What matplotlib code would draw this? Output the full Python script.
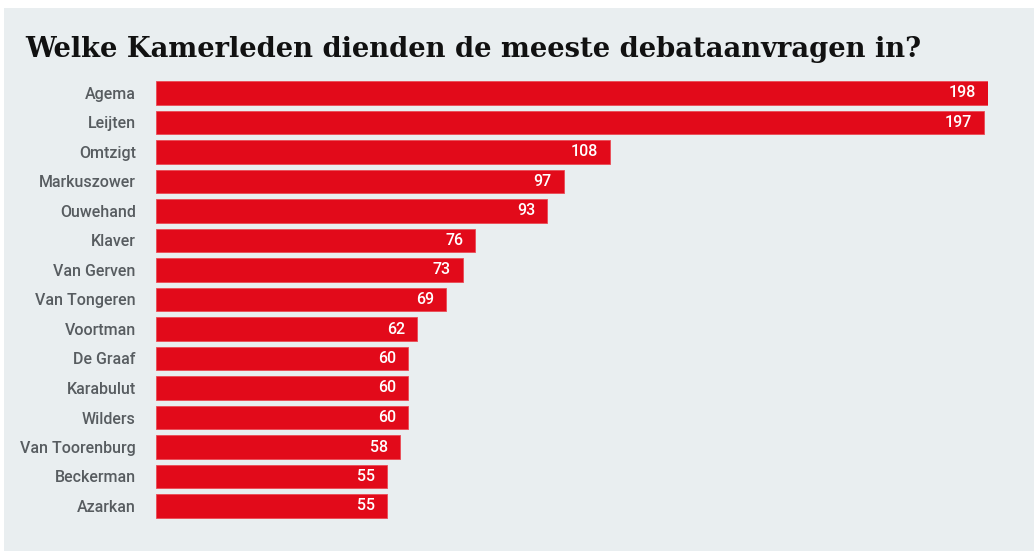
import matplotlib.pyplot as plt
from matplotlib.patches import Rectangle

names = ['Agema', 'Leijten', 'Omtzigt', 'Markuszower', 'Ouwehand', 'Klaver',
         'Van Gerven', 'Van Tongeren', 'Voortman', 'De Graaf', 'Karabulut',
         'Wilders', 'Van Toorenburg', 'Beckerman', 'Azarkan']
requests = [198, 197, 108, 97, 93, 76, 73, 69, 62, 60, 60, 60, 58, 55, 55]

title = 'Welke Kamerleden dienden de meeste debataanvragen in?'

W, H = 1034, 551
BG = '#e9eef0'
RED = '#e20a1a'
LABEL = '#575c60'

fig = plt.figure(figsize=(W / 100, H / 100), dpi=100)
fig.patch.set_facecolor('white')
# light panel behind everything, white strip on top and left
fig.patches.append(Rectangle((4 / W, 0), 1 - 4 / W, 1 - 8 / H,
                             transform=fig.transFigure, facecolor=BG,
                             edgecolor='none', zorder=-5))

fig.text(25 / W, 1 - 57 / H, title, family='DejaVu Serif', fontweight='bold',
         fontsize=19.7, color='#111111', ha='left', va='baseline')

# axes placed so that 0..198 spans pixel 156..988
ax = fig.add_axes([156 / W, 1 - 520.75 / H, (988 - 156) / W, (520.75 - 78.25) / H])
ax.set_facecolor('none')
ypos = list(range(len(names)))
ax.barh(ypos, requests, height=0.78, color=RED, edgecolor='#ea4a55', linewidth=0.6)
ax.set_xlim(0, 198)
ax.set_ylim(len(names) - 0.5, -0.5)

for y, v in zip(ypos, requests):
    ax.text(v - 2.8, y, str(v), ha='right', va='center', color='white',
            fontsize=11.5, family='Roboto', fontweight='medium')

ax.set_yticks(ypos)
ax.set_yticklabels(names, family='Roboto', fontweight='medium', fontsize=11.5,
                   color=LABEL)
ax.tick_params(axis='y', length=0, pad=14.5)
ax.set_xticks([])
for s in ax.spines.values():
    s.set_visible(False)

fig.savefig('out.png', dpi=100)
